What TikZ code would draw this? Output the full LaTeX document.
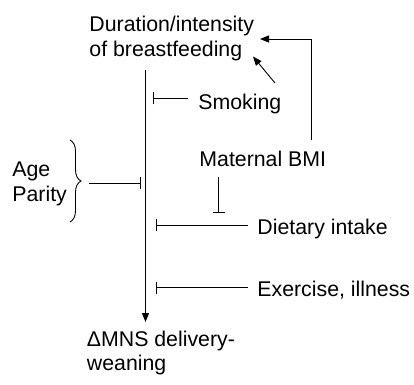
\documentclass[tikz,border=0pt]{standalone}
\usepackage{fontspec}
\setmainfont{Liberation Sans}
\usetikzlibrary{arrows.meta,decorations.pathreplacing}
\begin{document}
\begin{tikzpicture}[x=1bp,y=-1bp, line width=0.9bp,
  lbl/.style={font=\fontsize{21.3bp}{24.5bp}\selectfont, inner sep=0pt, anchor=base west},
  inhib/.style={-{Bar[width=12bp,line width=0.9bp]}},
  act/.style={-{Triangle[length=9bp,width=7bp]}}]
\useasboundingbox (0,0) rectangle (414,385);
% texts
\node[lbl] (dur1) at (89,31.7) {Duration/intensity};
\node[lbl] (dur2) at (89,56.5) {of breastfeeding};
\node[lbl] (smok) at (198,109) {Smoking};
\node[lbl] (bmi) at (199,166.7) {Maternal BMI};
\node[lbl] (age) at (12,176.7) {Age};
\node[lbl] (par) at (12,201.7) {Parity};
\node[lbl] (diet) at (257,234) {Dietary intake};
\node[lbl] (exer) at (257,296) {Exercise, illness};
\node[lbl] (mns1) at (86.5,346.5) {ΔMNS delivery-};
\node[lbl] (mns2) at (86.5,370.5) {weaning};
% coordinates
\coordinate (mtop) at (145.5,70);
\coordinate (mbot) at (145.5,322);
\coordinate (smokS) at (188,98.3);
\coordinate (smokT) at (153,98.3);
\coordinate (smokA) at (275,83);
\coordinate (durA) at (253,56.5);
\coordinate (bmiS) at (311,140);
\coordinate (durB) at (260,39);
\coordinate (bmiD) at (218.5,177);
\coordinate (bmiT) at (218.5,213);
\coordinate (brT) at (70,140);
\coordinate (brB) at (70,222);
\coordinate (ageS) at (89,183);
\coordinate (ageT) at (141,183);
\coordinate (dietS) at (248,225);
\coordinate (dietT) at (156,225);
\coordinate (exS) at (248,287.5);
\coordinate (exT) at (156,287.5);
% connectors
\draw[act] (mtop) -- (mbot);
\draw[inhib] (smokS) -- (smokT);
\draw[act] (smokA) -- (durA);
\draw[act] (bmiS) |- (durB);
\draw[inhib] (bmiD) -- (bmiT);
\draw[decorate,decoration={brace,amplitude=11bp}] (brT) -- (brB);
\draw[inhib] (ageS) -- (ageT);
\draw[inhib] (dietS) -- (dietT);
\draw[inhib] (exS) -- (exT);
\end{tikzpicture}
\end{document}
